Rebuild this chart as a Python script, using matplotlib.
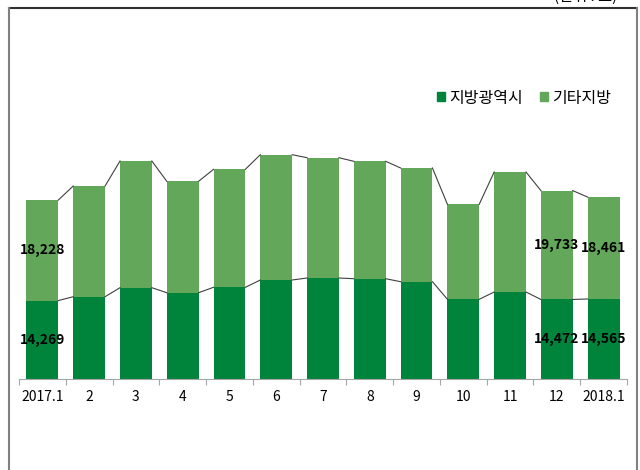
import numpy as np
import matplotlib
matplotlib.use("Agg")
import matplotlib.pyplot as plt
from matplotlib.patches import Patch
from matplotlib.lines import Line2D

plt.rcParams['font.family'] = ['Noto Sans CJK KR', 'DejaVu Sans']

months = ['2017.1', '2', '3', '4', '5', '6', '7', '8', '9', '10', '11', '12', '2018.1']
metro = [14269, 14975, 16607, 15700, 16680, 18003, 18366, 18239, 17695, 14504, 15827, 14472, 14565]
other = [18228, 20070, 22970, 20197, 21393, 22717, 21810, 21284, 20614, 17224, 21756, 19733, 18461]
labeled = [0, 11, 12]

c_metro = '#00843C'
c_other = '#62A75A'

W, H = 640, 470
fig = plt.figure(figsize=(W / 100, H / 100), dpi=100)

# axes placed in pixel terms
left, right, base, top = 19, 627, 379.3, 56.7
ax = fig.add_axes([left / W, 1 - base / H, (right - left) / W, (base - top) / H])

x = np.arange(len(months))
bw = 0.68
metro = np.array(metro)
other = np.array(other)
total = metro + other

ax.bar(x, metro, width=bw, color=c_metro, zorder=2)
ax.bar(x, other, width=bw, bottom=metro, color=c_other, zorder=2)

# series lines between bars
for i in range(len(x) - 1):
    for s in (metro, total):
        ax.plot([x[i] + bw / 2, x[i + 1] - bw / 2], [s[i], s[i + 1]],
                color='#404040', lw=0.8, zorder=3)

for i in labeled:
    ax.text(x[i], metro[i] / 2, f'{metro[i]:,}', ha='center', va='center',
            fontsize=10, fontweight='bold', color='black', zorder=4)
    ax.text(x[i], metro[i] + other[i] / 2, f'{other[i]:,}', ha='center', va='center',
            fontsize=10, fontweight='bold', color='black', zorder=4)

ax.set_xlim(-0.5, len(x) - 0.5)
ax.set_ylim(0, (base - top) * 181.3)
ax.set_yticks([])
for sp in ['left', 'right', 'top']:
    ax.spines[sp].set_visible(False)
ax.spines['bottom'].set_color('#A6A6A6')
ax.spines['bottom'].set_linewidth(0.8)

ax.set_xticks(x)
ax.set_xticklabels(months, fontsize=10)
ax.set_xticks(np.arange(-0.5, len(x)), minor=True)
ax.tick_params(axis='x', which='major', length=0, pad=8)
ax.tick_params(axis='x', which='minor', length=4, color='#A6A6A6', width=0.8)

handles = [Patch(color=c_metro), Patch(color=c_other)]
fig.legend(handles, ['지방광역시', '기타지방'], loc='center left',
           bbox_to_anchor=(437 / W, 1 - 98 / H), ncol=2, frameon=False,
           fontsize=11.5, handlelength=0.5, handleheight=0.5, handletextpad=0.25,
           columnspacing=1.1, borderpad=0, borderaxespad=0)

# outer frame
fig.add_artist(Line2D([9 / W, 637 / W], [1 - 8 / H, 1 - 8 / H], color='#303030', lw=1.5))
fig.add_artist(Line2D([9 / W, 9 / W], [1 - 8 / H, 0], color='#808080', lw=1.5))
fig.add_artist(Line2D([637 / W, 637 / W], [1 - 8 / H, 0], color='#808080', lw=1.5))

fig.text(617 / W, 1 - 5 / H, '(단위 : 호)', ha='right', va='bottom', fontsize=11)

fig.savefig('out.png', dpi=100)
